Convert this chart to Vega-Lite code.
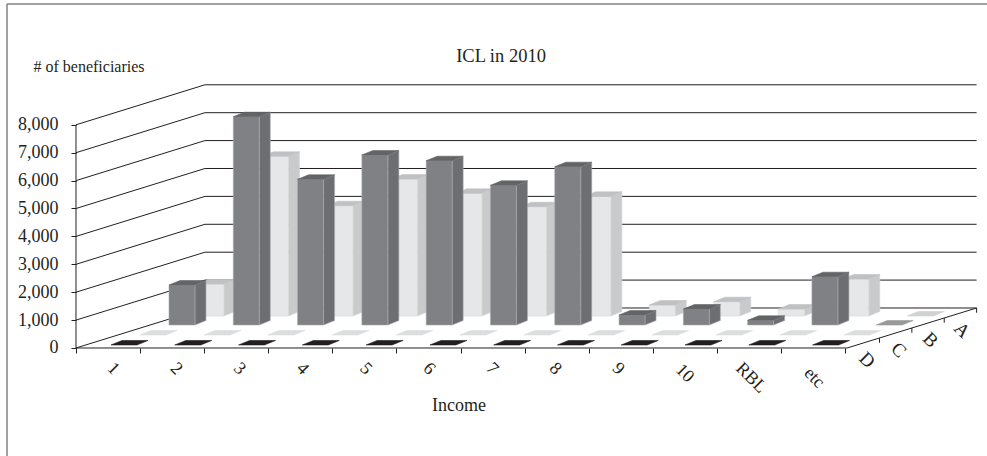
{"$schema":"https://vega.github.io/schema/vega-lite/v6.json","width":987,"height":456,"padding":0,"autosize":"none","background":"white","view":{"stroke":null},
"title":{"text":"ICL in 2010","font":"Liberation Serif","fontSize":18.5,"fontWeight":"normal","color":"#231f20","anchor":"middle","frame":"group","offset":-80,"dx":7.5,"baseline":"alphabetic"},
"datasets":{
"one":[{"k":1}],
"ticks":[{"tick":0},{"tick":1000},{"tick":2000},{"tick":3000},{"tick":4000},{"tick":5000},{"tick":6000},{"tick":7000},{"tick":8000}],
"cats":[{"income":"1"},{"income":"2"},{"income":"3"},{"income":"4"},{"income":"5"},{"income":"6"},{"income":"7"},{"income":"8"},{"income":"9"},{"income":"10"},{"income":"RBL"},{"income":"etc"}],
"depths":[{"series":"D"},{"series":"C"},{"series":"B"},{"series":"A"}],
"bars":[
{"income":"1","series":"A","value":1147},{"income":"2","series":"A","value":5724},{"income":"3","series":"A","value":3953},{"income":"4","series":"A","value":4910},{"income":"5","series":"A","value":4398},{"income":"6","series":"A","value":3918},{"income":"7","series":"A","value":4290},{"income":"8","series":"A","value":394},{"income":"9","series":"A","value":513},{"income":"10","series":"A","value":251},{"income":"RBL","series":"A","value":1326},{"income":"etc","series":"A","value":0},
{"income":"1","series":"B","value":1434},{"income":"2","series":"B","value":7466},{"income":"3","series":"B","value":5222},{"income":"4","series":"B","value":6093},{"income":"5","series":"B","value":5889},{"income":"6","series":"B","value":5007},{"income":"7","series":"B","value":5674},{"income":"8","series":"B","value":358},{"income":"9","series":"B","value":573},{"income":"10","series":"B","value":168},{"income":"RBL","series":"B","value":1731},{"income":"etc","series":"B","value":0},
{"income":"1","series":"C","value":0},{"income":"2","series":"C","value":0},{"income":"3","series":"C","value":0},{"income":"4","series":"C","value":0},{"income":"5","series":"C","value":0},{"income":"6","series":"C","value":0},{"income":"7","series":"C","value":0},{"income":"8","series":"C","value":0},{"income":"9","series":"C","value":0},{"income":"10","series":"C","value":0},{"income":"RBL","series":"C","value":0},{"income":"etc","series":"C","value":0},
{"income":"1","series":"D","value":0},{"income":"2","series":"D","value":0},{"income":"3","series":"D","value":0},{"income":"4","series":"D","value":0},{"income":"5","series":"D","value":0},{"income":"6","series":"D","value":0},{"income":"7","series":"D","value":0},{"income":"8","series":"D","value":0},{"income":"9","series":"D","value":0},{"income":"10","series":"D","value":0},{"income":"RBL","series":"D","value":0},{"income":"etc","series":"D","value":0}
]},
"layer":[
{"data":{"name":"ticks"},
"transform":[{"calculate":"[0,1,2]","as":"v"},{"flatten":["v"]},{"calculate":"[0,2.012,14.05][datum.v]","as":"px"},{"calculate":"datum.tick+(datum.v>0?1434:0)","as":"py"}],
"mark":{"type":"line","stroke":"#231f20","strokeWidth":1},
"encoding":{
"x":{"field":"px","type":"quantitative","scale":{"domain":[-1.1856,14.2122],"nice":false,"zero":false},
"axis":{"values":[0,1,2,3,4,5,6,7,8,9,10,11,12],"labels":false,"grid":false,"domain":false,"offset":-108,"tickSize":5,"tickColor":"#231f20","title":"Income","titleFont":"Liberation Serif","titleFontSize":18,"titleFontWeight":"normal","titleColor":"#231f20","titleX":458.5,"titleY":62,"titleBaseline":"alphabetic"}},
"y":{"field":"py","type":"quantitative","scale":{"domain":[-3871,12473],"nice":false,"zero":false},
"axis":{"values":[0,1000,2000,3000,4000,5000,6000,7000,8000],"labelExpr":"format(datum.value,',')","grid":false,"domain":false,"offset":-76,"tickSize":5,"tickColor":"#231f20","labelFont":"Liberation Serif","labelFontSize":18,"labelColor":"#231f20","labelPadding":13,"title":"# of beneficiaries","titleAngle":0,"titleFont":"Liberation Serif","titleFontSize":16,"titleFontWeight":"normal","titleColor":"#231f20","titleAlign":"left","titleBaseline":"alphabetic","titleX":-43,"titleY":71}},
"detail":{"field":"tick"},
"order":{"field":"v"}}},
{"data":{"name":"one"},"mark":{"type":"rule","stroke":"#231f20","strokeWidth":1},"encoding":{"x":{"datum":0,"type":"quantitative"},"x2":{"datum":12.03},"y":{"datum":0,"type":"quantitative"}}},
{"data":{"name":"one"},"mark":{"type":"rule","stroke":"#231f20","strokeWidth":1},"encoding":{"x":{"datum":12.03,"type":"quantitative"},"x2":{"datum":14.05},"y":{"datum":0,"type":"quantitative"},"y2":{"datum":1434}}},
{"data":{"name":"one"},"mark":{"type":"rule","stroke":"#231f20","strokeWidth":1},"encoding":{"x":{"datum":0,"type":"quantitative"},"y":{"datum":0,"type":"quantitative"},"y2":{"datum":8000}}},
{"data":{"name":"one"},"mark":{"type":"rule","stroke":"#808285","strokeWidth":1.5},"encoding":{"x":{"datum":-1.0764,"type":"quantitative"},"y":{"datum":12330,"type":"quantitative"},"y2":{"datum":-3871}}},
{"data":{"name":"one"},"mark":{"type":"rule","stroke":"#808285","strokeWidth":1.5},"encoding":{"x":{"datum":-1.0764,"type":"quantitative"},"x2":{"datum":14.2122},"y":{"datum":12330,"type":"quantitative"}}},
{"data":{"name":"bars"},
"transform":[
{"calculate":"indexof(['D','C','B','A'],datum.series)","as":"r"},
{"calculate":"indexof(['1','2','3','4','5','6','7','8','9','10','RBL','etc'],datum.income)","as":"c"},
{"calculate":"[0.546,0.998,1.451,1.903][datum.r]+datum.c*[0.995,0.998,1.003,1.006][datum.r]","as":"x0"},
{"calculate":"datum.x0+0.405","as":"x1"},
{"calculate":"[108,466,824,1147][datum.r]","as":"b"},
{"calculate":"datum.b+datum.value","as":"t"},
{"calculate":"datum.value>0?['side','front','top']:['top']","as":"face"},
{"flatten":["face"]},
{"calculate":"[0,1,2,3,4]","as":"v"},
{"flatten":["v"]},
{"calculate":"datum.face=='side'?[datum.x1,datum.x1+0.172,datum.x1+0.172,datum.x1,datum.x1][datum.v]:datum.face=='front'?[datum.x0,datum.x1,datum.x1,datum.x0,datum.x0][datum.v]:[datum.x0,datum.x1,datum.x1+0.172,datum.x0+0.172,datum.x0][datum.v]","as":"px"},
{"calculate":"datum.face=='side'?[datum.b,datum.b+161,datum.t+161,datum.t,datum.b][datum.v]:datum.face=='front'?[datum.b,datum.b,datum.t,datum.t,datum.b][datum.v]:[datum.t,datum.t,datum.t+161,datum.t+161,datum.t][datum.v]","as":"py"},
{"calculate":"(datum.value>0?datum.face:'tile')+datum.series","as":"key"},
{"calculate":"datum.series+datum.income+datum.face","as":"id"}],
"mark":{"type":"line","strokeWidth":0.6,"strokeJoin":"miter"},
"encoding":{
"x":{"field":"px","type":"quantitative"},
"y":{"field":"py","type":"quantitative"},
"detail":{"field":"id"},
"order":{"field":"v"},
"fill":{"field":"key","type":"nominal","legend":null,"scale":{"domain":["sideA","frontA","topA","sideB","frontB","topB","tileA","tileB","tileC","tileD"],"range":["#c9cacc","#e6e7e8","#c0c1c3","#6d6e71","#808184","#636466","#d0d1d3","#98999b","#dcddde","#231f20"]}},
"stroke":{"field":"key","type":"nominal","legend":null,"scale":{"domain":["sideA","frontA","topA","sideB","frontB","topB","tileA","tileB","tileC","tileD"],"range":["#d6d7d9","#d6d7d9","#c0c1c3","#a7a9ac","#a7a9ac","#636466","#d0d1d3","#98999b","#dcddde","#231f20"]}}}},
{"data":{"name":"cats"},
"transform":[{"calculate":"indexof(['1','2','3','4','5','6','7','8','9','10','RBL','etc'],datum.income)*0.985+0.58+(length(datum.income)-1)*0.05","as":"px"},{"calculate":"-753-(length(datum.income)-1)*161","as":"py"}],
"mark":{"type":"text","font":"Liberation Serif","fontSize":18,"angle":45,"align":"center","baseline":"middle","color":"#231f20"},
"encoding":{"x":{"field":"px","type":"quantitative"},"y":{"field":"py","type":"quantitative"},"text":{"field":"income"}}},
{"data":{"name":"depths"},
"transform":[{"calculate":"indexof(['D','C','B','A'],datum.series)","as":"r"},{"calculate":"12.34+datum.r*0.495","as":"px"},{"calculate":"-430+datum.r*358","as":"py"}],
"mark":{"type":"text","font":"Liberation Serif","fontSize":19,"angle":45,"align":"center","baseline":"middle","color":"#231f20"},
"encoding":{"x":{"field":"px","type":"quantitative"},"y":{"field":"py","type":"quantitative"},"text":{"field":"series"}}},
{"data":{"name":"depths"},
"transform":[{"calculate":"indexof(['D','C','B','A'],datum.series)+1","as":"r"},{"calculate":"12.03+datum.r*0.505","as":"px"},{"calculate":"datum.r*358.5","as":"py"},{"calculate":"datum.py-170","as":"py2"}],
"mark":{"type":"rule","stroke":"#231f20","strokeWidth":1},
"encoding":{"x":{"field":"px","type":"quantitative"},"y":{"field":"py","type":"quantitative"},"y2":{"field":"py2"}}}
],
"resolve":{"scale":{"fill":"independent","stroke":"independent"}}
}
